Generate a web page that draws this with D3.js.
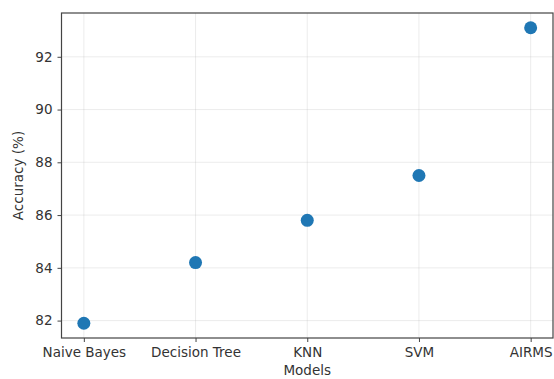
<!DOCTYPE html>
<html><head><meta charset="utf-8">
<script src="https://cdn.jsdelivr.net/npm/d3@7"></script>
<style>body{margin:0;background:#fff}svg{display:block}text{font-family:"DejaVu Sans",sans-serif;fill:#333}</style>
</head><body><svg id="c" width="554" height="379"></svg>
<script>
const models = ["Naive Bayes","Decision Tree","KNN","SVM","AIRMS"];
const accuracy = [81.9, 84.2, 85.8, 87.5, 93.1];
const yTicks = [82, 84, 86, 88, 90, 92];

const W = 554, H = 379;
const m = {left: 61.5, right: 553, top: 13, bottom: 338};
const FS = 13.5;
const svg = d3.select("#c");
const xIdx = d3.scaleLinear().domain([-0.2, 4.2]).range([m.left, m.right]);
const y = d3.scaleLinear().domain([81.34, 93.66]).range([m.bottom, m.top]);

const g = svg.append("g");
// grid
g.selectAll(".gx").data(models).join("line")
  .attr("x1", (d,i)=>xIdx(i)).attr("x2", (d,i)=>xIdx(i))
  .attr("y1", m.top).attr("y2", m.bottom)
  .attr("stroke", "#b0b0b0").attr("stroke-opacity", 0.3).attr("stroke-width", 0.8);
g.selectAll(".gy").data(yTicks).join("line")
  .attr("x1", m.left).attr("x2", m.right)
  .attr("y1", d=>y(d)).attr("y2", d=>y(d))
  .attr("stroke", "#b0b0b0").attr("stroke-opacity", 0.3).attr("stroke-width", 0.8);

// axes
const xAxis = d3.axisBottom(xIdx).tickValues(d3.range(models.length)).tickFormat(i=>models[i]).tickSize(4).tickPadding(5);
const yAxis = d3.axisLeft(y).tickValues(yTicks).tickSize(4).tickPadding(5);
const ax = svg.append("g").attr("transform", `translate(0,${m.bottom})`).call(xAxis);
const ay = svg.append("g").attr("transform", `translate(${m.left},0)`).call(yAxis);
[ax, ay].forEach(a => {
  a.select(".domain").remove();
  a.selectAll("text").attr("font-size", FS).attr("fill", "#333").style("font-family", "DejaVu Sans");
  a.selectAll("line").attr("stroke", "#444");
});
// frame
svg.append("rect").attr("x", m.left).attr("y", m.top).attr("width", m.right - m.left).attr("height", m.bottom - m.top)
  .attr("fill", "none").attr("stroke", "#444").attr("stroke-width", 1.2);

// points
svg.selectAll(".pt").data(accuracy).join("circle")
  .attr("cx", (d,i)=>xIdx(i)).attr("cy", d=>y(d)).attr("r", 6.5).attr("fill", "#1f77b4");

// labels
svg.append("text").attr("x", (m.left + m.right)/2).attr("y", 374.5).attr("text-anchor", "middle")
  .attr("font-size", FS).text("Models");
svg.append("text").attr("transform", `translate(23,${(m.top+m.bottom)/2}) rotate(-90)`).attr("text-anchor", "middle")
  .attr("font-size", FS).text("Accuracy (%)");
</script></body></html>
